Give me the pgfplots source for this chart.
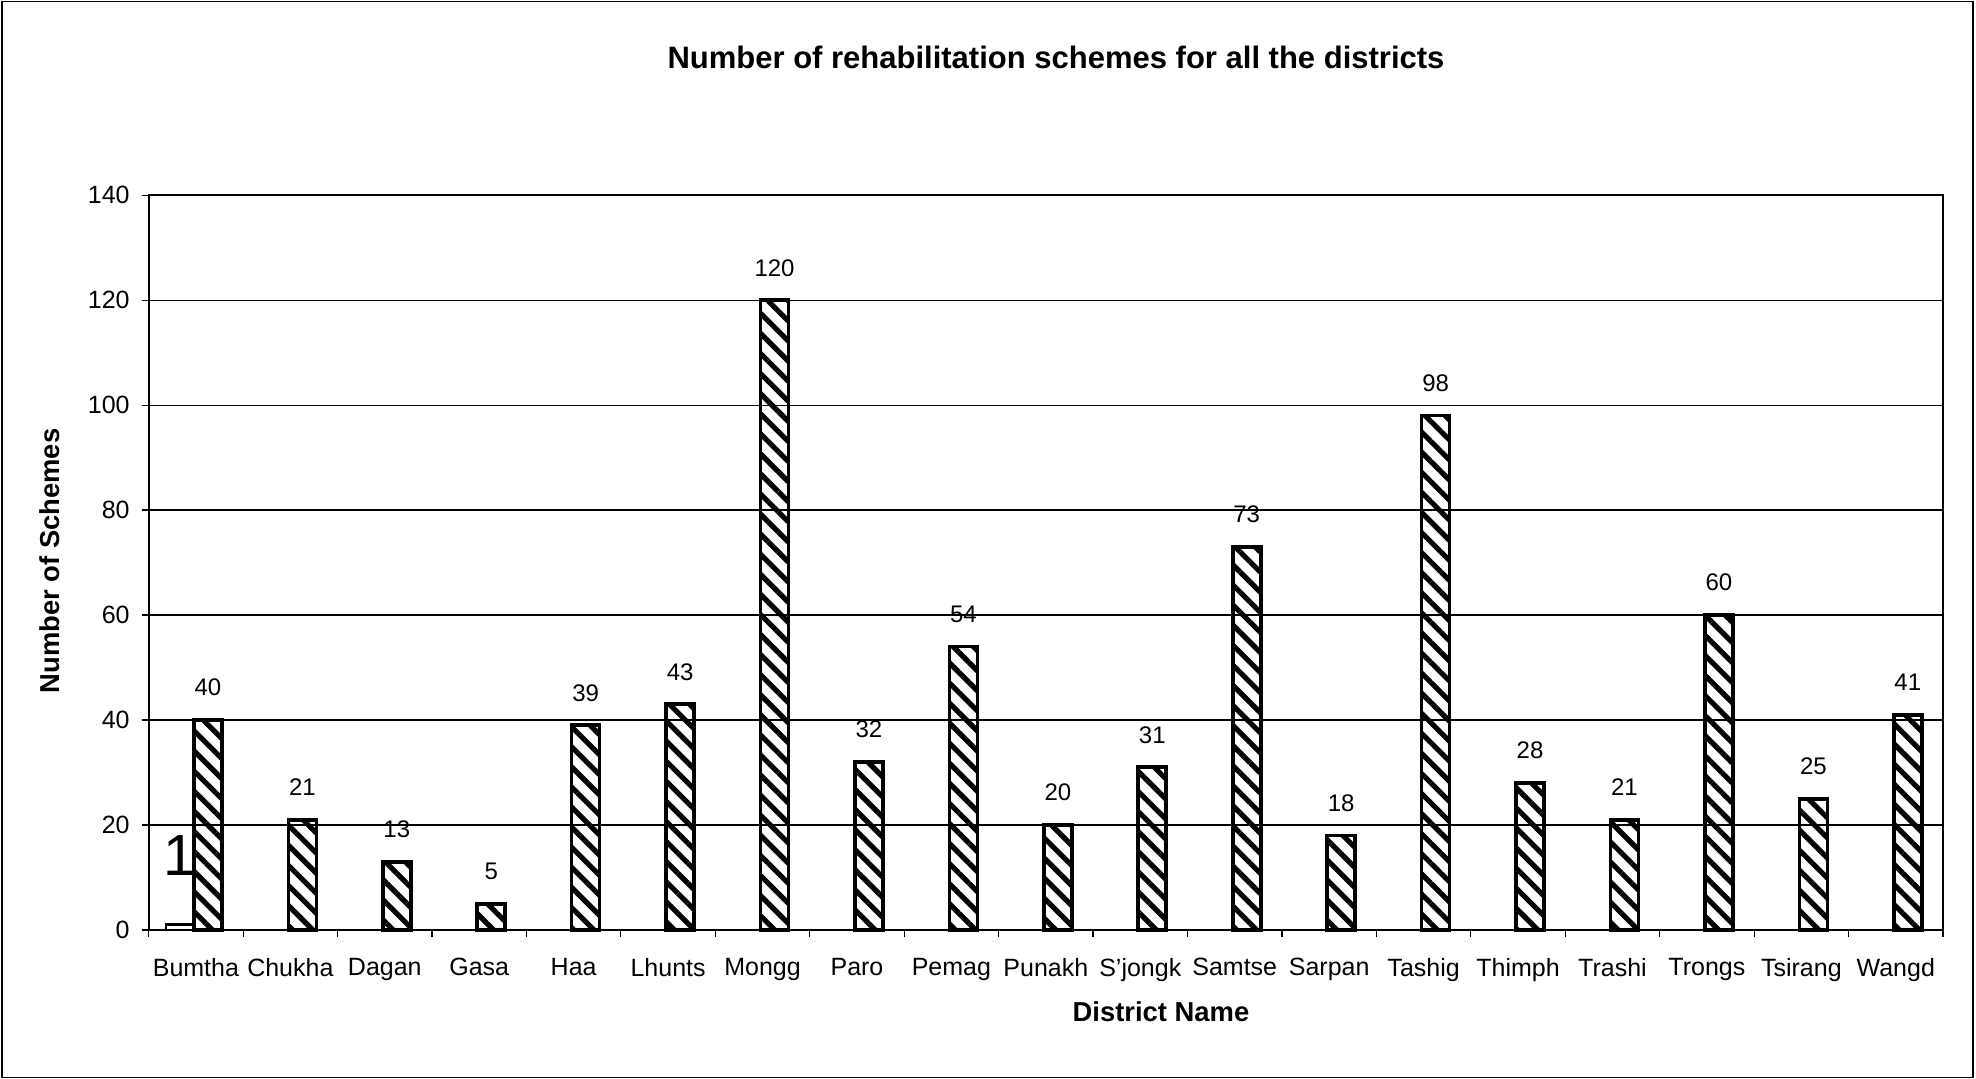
\documentclass[border=0pt]{standalone}
\usepackage{pgfplots}
\pgfplotsset{compat=1.18}
\usepackage{pgfplotstable}
\usepackage{fontspec}
\setmainfont{Liberation Sans}
\usetikzlibrary{patterns.meta}

% Number of rehabilitation schemes per district
\pgfplotstableread{
x schemes
0 40
1 21
2 13
3 5
4 39
5 43
6 120
7 32
8 54
9 20
10 31
11 73
12 18
13 98
14 28
15 21
16 60
17 25
18 41
}\schemestable

\begin{document}
\begin{tikzpicture}
\path[use as bounding box] (0pt,0pt) rectangle (988pt,539.5pt);
\draw[line width=0.7pt] (1pt,0.8pt) rectangle (986.5pt,538.8pt);
\begin{axis}[
  at={(74.35pt,74.5pt)}, anchor=south west,
  scale only axis, width=897.15pt, height=367.4pt,
  xmin=-0.5, xmax=18.5, ymin=0, ymax=140,
  ytick={0,20,...,140},
  xtick={0,...,18},
  xticklabels={Bumtha,Chukha,Dagan,Gasa,Haa,Lhunts,Mongg,Paro,Pemag,Punakh,S'jongk,Samtse,Sarpan,Tashig,Thimph,Trashi,Trongs,Tsirang,Wangd},
  minor xtick={-0.5,0.5,...,18.5},
  every major x tick/.append style={draw=none},
  tick pos=left,
  tick align=outside,
  major tick length=3.5pt, minor tick length=3.5pt,
  tick style={black, line width=0.6pt},
  ymajorgrids,
  grid style={black, line width=0.6pt},
  axis line style={black, line width=1pt},
  /pgf/number format/assume math mode=true,
  yticklabel style={font=\fontsize{12.5}{15}\selectfont, xshift=-2.5pt},
  xticklabel style={font=\fontsize{12.5}{15}\selectfont, yshift=-7pt},
  clip=false,
]
% single small bar of the first series
\addplot[ybar, bar width=14pt, bar shift=-8pt, draw=black, line width=1.4pt,
  nodes near coords={\fontsize{29}{30}\selectfont\pgfmathprintnumber[assume math mode=true]{\pgfplotspointmeta}},
  every node near coord/.append style={inner sep=0pt, yshift=24pt, xshift=-8pt}]
  coordinates {(0,1)};
% hatched bars
\addplot[ybar, bar width=14pt, bar shift=6pt, draw=black, line width=1.8pt,
  pattern={Lines[angle=-45,distance=7.1pt,line width=2.6pt]},
  nodes near coords={\fontsize{12}{14}\selectfont\pgfmathprintnumber[assume math mode=true]{\pgfplotspointmeta}},
  every node near coord/.append style={yshift=7.7pt, xshift=6pt}]
  table[x=x, y=schemes] {\schemestable};
\end{axis}
\node[font=\bfseries\fontsize{15.5}{18}\selectfont] at (528pt,511pt) {Number of rehabilitation schemes for all the districts};
\node[font=\bfseries\fontsize{13.7}{16}\selectfont, rotate=90] at (25pt,259pt) {Number of Schemes};
\node[font=\bfseries\fontsize{13.7}{16}\selectfont] at (580.5pt,33.5pt) {District Name};
\end{tikzpicture}
\end{document}
